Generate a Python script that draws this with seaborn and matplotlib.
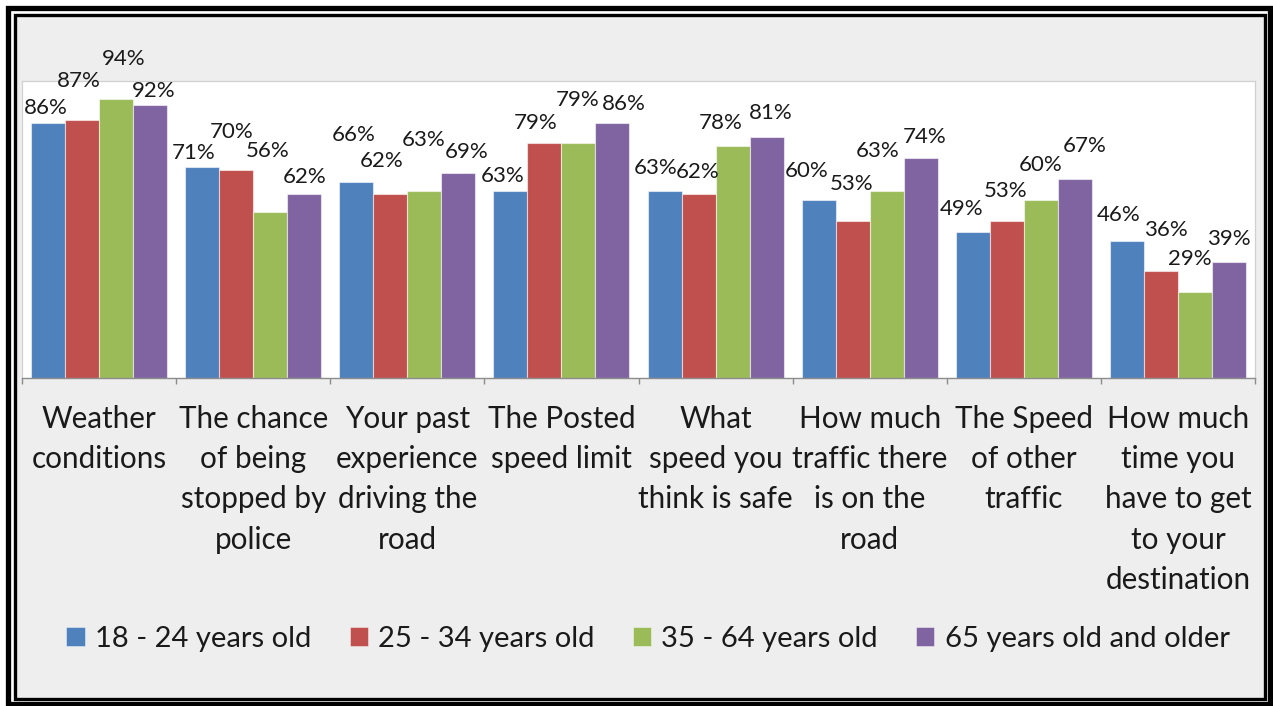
import numpy as np
import pandas as pd
import matplotlib
matplotlib.use("Agg")
import matplotlib.pyplot as plt
from matplotlib.patches import Rectangle, Patch
import seaborn as sns

# ---- data ----
categories = [
    "Weather\nconditions",
    "The chance\nof being\nstopped by\npolice",
    "Your past\nexperience\ndriving the\nroad",
    "The Posted\nspeed limit",
    "What\nspeed you\nthink is safe",
    "How much\ntraffic there\nis on the\nroad",
    "The Speed\nof other\ntraffic",
    "How much\ntime you\nhave to get\nto your\ndestination",
]
series_names = ["18 - 24 years old", "25 - 34 years old",
                "35 - 64 years old", "65 years old and older"]
age_18_24 = [86, 71, 66, 63, 63, 60, 49, 46]
age_25_34 = [87, 70, 62, 79, 62, 53, 53, 36]
age_35_64 = [94, 56, 63, 79, 78, 63, 60, 29]
age_65_up = [92, 62, 69, 86, 81, 74, 67, 39]

# ---- layout: data-label offsets (pixels) per series, per category ----
label_dx = [
    [-2, -9, -3, -8, -9, -12, -11, -8],
    [-3, -5, -9, -9, -1, -1, -1, 5],
    [8, -3, -1, -1, -12, -9, 0, -5],
    [4, 0, 8, 11, 4, 4, 10, 0],
]
label_dy = [
    [17, 16, 49, 17, 25, 31, 25, 28],
    [41, 40, 35, 22, 24, 39, 32, 43],
    [42, 63, 53, 45, 25, 42, 37, 35],
    [16, 19, 23, 21, 26, 23, 35, 25],
]

colors = ["#4F81BD", "#C0504D", "#9BBB59", "#8064A2"]

rows = []
for name, vals in zip(series_names, [age_18_24, age_25_34, age_35_64, age_65_up]):
    for cat, v in zip(categories, vals):
        rows.append({"factor": cat, "age": name, "pct": v})
df = pd.DataFrame(rows)

sns.set_theme(style="white")
plt.rcParams["font.family"] = ["Lato", "DejaVu Sans"]

W, H = 1273, 706
fig = plt.figure(figsize=(W / 100, H / 100), dpi=100)
fig.patch.set_facecolor("white")

def fx(px):
    return px / W

def fy(py):
    return 1 - py / H

# frame: grey fill with inner black line, and outer black line
fig.add_artist(Rectangle((fx(15), fy(699)), fx(1264.5) - fx(15), fy(15) - fy(699),
                         transform=fig.transFigure, facecolor="#EEEEEE",
                         edgecolor="black", linewidth=2.4, zorder=-2))
fig.add_artist(Rectangle((fx(7.5), fy(703.5)), fx(1270) - fx(7.5), fy(7.5) - fy(703.5),
                         transform=fig.transFigure, facecolor="none",
                         edgecolor="black", linewidth=3.8, zorder=-2))

ax = fig.add_axes([fx(22), fy(378), fx(1255) - fx(22), fy(81) - fy(378)])
ax.set_facecolor("white")

sns.barplot(data=df, x="factor", y="pct", hue="age", order=categories,
            hue_order=series_names, palette=colors, saturation=1, width=0.883,
            edgecolor=(1, 1, 1, 0.55), linewidth=0.8, legend=False, ax=ax)

ax.set_xlim(-0.5, len(categories) - 0.5)
ax.set_ylim(0, 100)
ax.set_yticks([])
ax.set_xlabel("")
ax.set_ylabel("")

for side in ["top", "left", "right"]:
    ax.spines[side].set_color("#D0D0D0")
    ax.spines[side].set_linewidth(0.9)
ax.spines["bottom"].set_color("#8C8C8C")
ax.spines["bottom"].set_linewidth(1.0)

ax.set_xticks(np.arange(len(categories)))
ax.set_xticklabels(categories, fontsize=21.3, linespacing=1.53, color="#1A1A1A")
ax.tick_params(axis="x", which="major", length=0, pad=19.5)
ax.set_xticks(np.arange(-0.5, len(categories) + 0.5, 1), minor=True)
ax.tick_params(axis="x", which="minor", length=4.5, width=1.0, color="#8C8C8C",
               direction="out", bottom=True)

for si, cont in enumerate(ax.containers):
    for ci, bar in enumerate(cont):
        xc = bar.get_x() + bar.get_width() / 2
        yt = bar.get_height()
        val = [age_18_24, age_25_34, age_35_64, age_65_up][si][ci]
        ax.annotate(f"{val}%", xy=(xc, yt),
                    xytext=(label_dx[si][ci], label_dy[si][ci]),
                    textcoords="offset pixels", ha="center", va="center_baseline",
                    fontsize=16, color="#1A1A1A", annotation_clip=False)

handles = [Patch(facecolor=c, edgecolor=(1, 1, 1, 0.5), linewidth=0.6) for c in colors]
fig.legend(handles, series_names, ncol=4, loc="center",
           bbox_to_anchor=(fx(648), fy(639)), frameon=False, fontsize=21,
           handlelength=0.62, handleheight=0.62, handletextpad=0.35,
           columnspacing=1.32, labelcolor="#1A1A1A")

fig.savefig("out.png", dpi=100)
